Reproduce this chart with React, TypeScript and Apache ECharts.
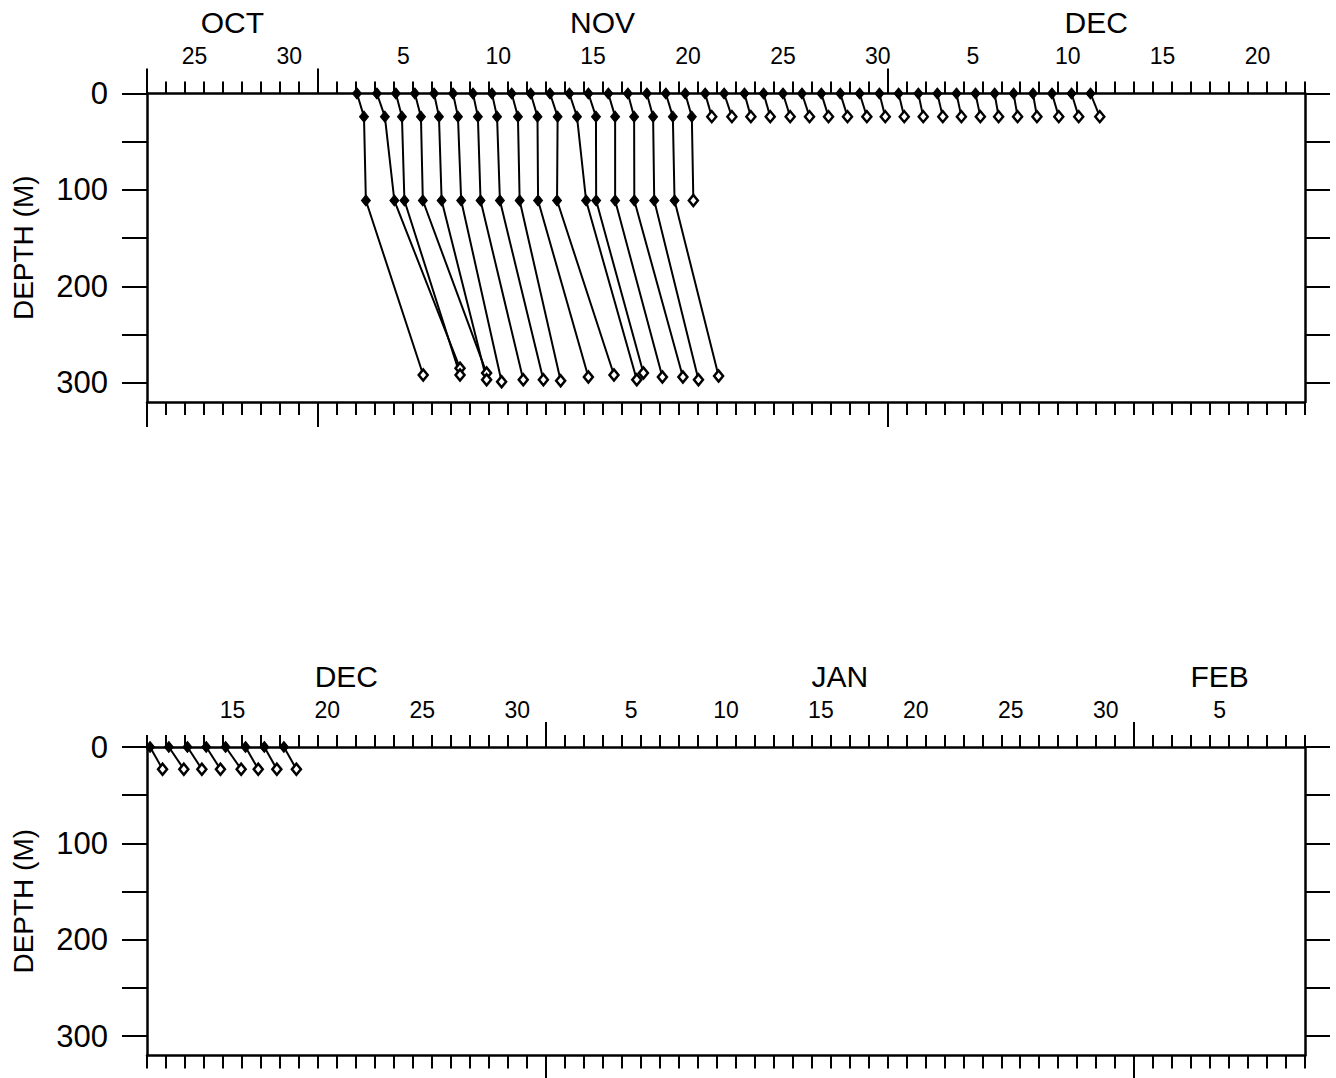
import React, { useEffect, useRef } from "react";
import * as echarts from "echarts";

// Time unit: days after 1 Nov 00:00
const MONTH_NAMES = ["OCT", "NOV", "DEC", "JAN", "FEB"];
const MONTH_START = [-31, 0, 30, 61, 92];
const MONTH_END = [0, 30, 61, 92, 120];
const DAY_LABELS = [5, 10, 15, 20, 25, 30];
const DEPTH_TICKS = [0, 50, 100, 150, 200, 250, 300];
const DEPTH_LABELS = [0, 100, 200, 300];

const PANEL_RANGES = [
  [-9, 52],
  [40, 101],
];
const PANEL_LONG_TICKS = [
  [-9, 0, 30],
  [61, 92],
];

// Upper panel profiles
const A_SURFACE_T = [
  2.06, 3.11, 4.11, 5.11, 6.12, 7.12, 8.17, 9.17, 10.21, 11.21, 12.23, 13.25, 14.25,
  15.3, 16.33, 17.33, 18.33, 19.35, 20.4, 21.4, 22.47, 23.48, 24.5, 25.5, 26.52, 27.52,
  28.54, 29.58, 30.59, 31.63, 32.63, 33.64, 34.64, 35.65, 36.65, 37.67, 38.67, 39.7, 40.7,
];
const A_SHALLOW_T = [
  2.43, 3.53, 4.43, 5.43, 6.38, 7.38, 8.43, 9.44, 10.54, 11.57, 12.63, 13.65, 14.65,
  15.66, 16.66, 17.66, 18.7, 19.7, 20.75, 21.81, 22.81, 23.83, 24.88, 25.9, 26.9, 27.9,
  28.92, 29.89, 30.89, 31.89, 32.92, 33.9, 34.9, 35.86, 36.86, 37.88, 39.03, 40.08, 41.19,
];
const A_SHALLOW_DEPTH = 24;
const A_MID_T = [
  2.53, 4.03, 4.56, 5.53, 6.52, 7.55, 8.57, 9.59, 10.63, 11.6, 12.6, 14.13, 14.66, 15.66,
  16.67, 17.72, 18.79, 19.78,
];
const A_MID_DEPTH = 111;
const A_DEEP_T = [
  5.55, 7.49, 7.49, 8.89, 8.89, 9.68, 10.82, 11.88, 12.79, 14.25, 15.6, 16.8, 17.15,
  18.15, 19.23, 20.05, 21.11,
];
const A_DEEP_DEPTH = [292, 285, 292, 290, 297, 299, 297, 297, 298, 294, 292, 297, 290, 294, 294, 297, 293];

// Lower panel profiles
const B_SURFACE_T = [40.16, 41.15, 42.13, 43.12, 44.14, 45.19, 46.18, 47.21];
const B_SHALLOW_T = [40.82, 41.94, 42.89, 43.87, 44.96, 45.86, 46.84, 47.87];
const B_SHALLOW_DEPTH = 23;

const FONT = "'Liberation Sans', Arial, Helvetica, sans-serif";
const BLACK = "#000";

function buildProfilesA(): number[][][] {
  return A_SURFACE_T.map((t0, i) => {
    const pts: number[][] = [
      [t0, 0],
      [A_SHALLOW_T[i], A_SHALLOW_DEPTH],
    ];
    if (i < A_MID_T.length) pts.push([A_MID_T[i], A_MID_DEPTH]);
    if (i < A_DEEP_T.length) pts.push([A_DEEP_T[i], A_DEEP_DEPTH[i]]);
    return pts;
  });
}

function buildProfilesB(): number[][][] {
  return B_SURFACE_T.map((t0, i) => [
    [t0, 0],
    [B_SHALLOW_T[i], B_SHALLOW_DEPTH],
  ]);
}

function monthIndexOf(v: number): number {
  for (let m = 0; m < MONTH_START.length; m++) {
    if (v >= MONTH_START[m] && v < MONTH_END[m]) return m;
  }
  return 0;
}

function range(a: number, b: number): number[] {
  const out: number[] = [];
  for (let v = a; v <= b; v++) out.push(v);
  return out;
}

export default function App() {
  const ref = useRef<HTMLDivElement>(null);

  useEffect(() => {
    document.body.style.margin = "0";
    if (!ref.current) return;
    const chart = echarts.init(ref.current, null, { renderer: "svg" });

    const gridTops = [93.5, 747];
    const gridHeight = 308.5;
    const grids = gridTops.map((top) => ({
      left: 147,
      width: 1158,
      top,
      height: gridHeight,
      containLabel: false,
      show: false,
    }));

    const xAxes: any[] = [];
    const yAxes: any[] = [];

    PANEL_RANGES.forEach(([min, max], p) => {
      const dayLabelValues: number[] = [];
      const monthCenters: number[] = [];
      MONTH_START.forEach((ms, m) => {
        DAY_LABELS.forEach((d) => {
          const v = ms + d - 0.5;
          if (v > min && v < max && v < MONTH_END[m]) dayLabelValues.push(v);
        });
        const a = Math.max(min, ms);
        const b = Math.min(max, MONTH_END[m]);
        if (b > a) monthCenters.push((a + b) / 2);
      });
      const days = range(min, max);
      const base = {
        type: "value",
        gridIndex: p,
        min,
        max,
        splitLine: { show: false },
        silent: true,
      };
      // top: daily ticks + day labels
      xAxes.push({
        ...base,
        position: "top",
        axisLine: { show: true, onZero: false, lineStyle: { color: BLACK, width: 2.5 } },
        axisTick: { show: true, customValues: days, length: 12, lineStyle: { color: BLACK, width: 2 } },
        axisLabel: {
          show: true,
          customValues: dayLabelValues,
          formatter: (v: number) => {
            const m = monthIndexOf(v);
            return String(Math.round(v + 0.5 - MONTH_START[m]));
          },
          margin: 26,
          fontSize: 23,
          color: BLACK,
          fontFamily: FONT,
        },
      });
      // top: month ticks + month labels
      xAxes.push({
        ...base,
        position: "top",
        axisLine: { show: false, onZero: false },
        axisTick: { show: true, customValues: PANEL_LONG_TICKS[p], length: 25, lineStyle: { color: BLACK, width: 2 } },
        axisLabel: {
          show: true,
          customValues: monthCenters,
          formatter: (v: number) => MONTH_NAMES[monthIndexOf(v)],
          margin: 56,
          fontSize: 30,
          color: BLACK,
          fontFamily: FONT,
        },
      });
      // bottom: daily ticks
      xAxes.push({
        ...base,
        position: "bottom",
        axisLine: { show: true, onZero: false, lineStyle: { color: BLACK, width: 2.5 } },
        axisTick: { show: true, customValues: days, length: 13, lineStyle: { color: BLACK, width: 2 } },
        axisLabel: { show: false },
      });
      // bottom: month ticks
      xAxes.push({
        ...base,
        position: "bottom",
        axisLine: { show: false, onZero: false },
        axisTick: { show: true, customValues: PANEL_LONG_TICKS[p], length: 25, lineStyle: { color: BLACK, width: 2 } },
        axisLabel: { show: false },
      });

      const yBase = {
        type: "value",
        gridIndex: p,
        inverse: true,
        min: 0,
        max: 320,
        splitLine: { show: false },
        silent: true,
        axisLine: { show: true, onZero: false, lineStyle: { color: BLACK, width: 2.5 } },
        axisTick: { show: true, customValues: DEPTH_TICKS, length: 25, lineStyle: { color: BLACK, width: 2 } },
      };
      yAxes.push({
        ...yBase,
        position: "left",
        name: "DEPTH (M)",
        nameLocation: "middle",
        nameRotate: 90,
        nameGap: 110,
        nameTextStyle: { fontSize: 28, color: BLACK, fontFamily: FONT },
        axisLabel: {
          show: true,
          customValues: DEPTH_LABELS,
          margin: 39,
          fontSize: 31,
          color: BLACK,
          fontFamily: FONT,
        },
      });
      yAxes.push({
        ...yBase,
        position: "right",
        axisLabel: { show: false },
      });
    });

    const series: any[] = [];
    const panels = [buildProfilesA(), buildProfilesB()];
    panels.forEach((profiles, p) => {
      profiles.forEach((pts) => {
        series.push({
          type: "line",
          xAxisIndex: p * 4,
          yAxisIndex: p * 2,
          symbol: "diamond",
          symbolSize: [9, 11],
          showSymbol: true,
          showAllSymbol: true,
          silent: true,
          z: 5,
          lineStyle: { color: BLACK, width: 2 },
          itemStyle: { color: BLACK, borderColor: BLACK, borderWidth: 1 },
          data: pts.map((pt, k) =>
            k === pts.length - 1
              ? { value: pt, itemStyle: { color: "#fff", borderColor: BLACK, borderWidth: 2.5 } }
              : { value: pt }
          ),
        });
      });
    });

    chart.setOption({
      animation: false,
      backgroundColor: "#fff",
      textStyle: { fontFamily: FONT },
      grid: grids,
      xAxis: xAxes,
      yAxis: yAxes,
      series,
    });

    return () => chart.dispose();
  }, []);

  return <div ref={ref} style={{ width: 1336, height: 1078 }} />;
}
